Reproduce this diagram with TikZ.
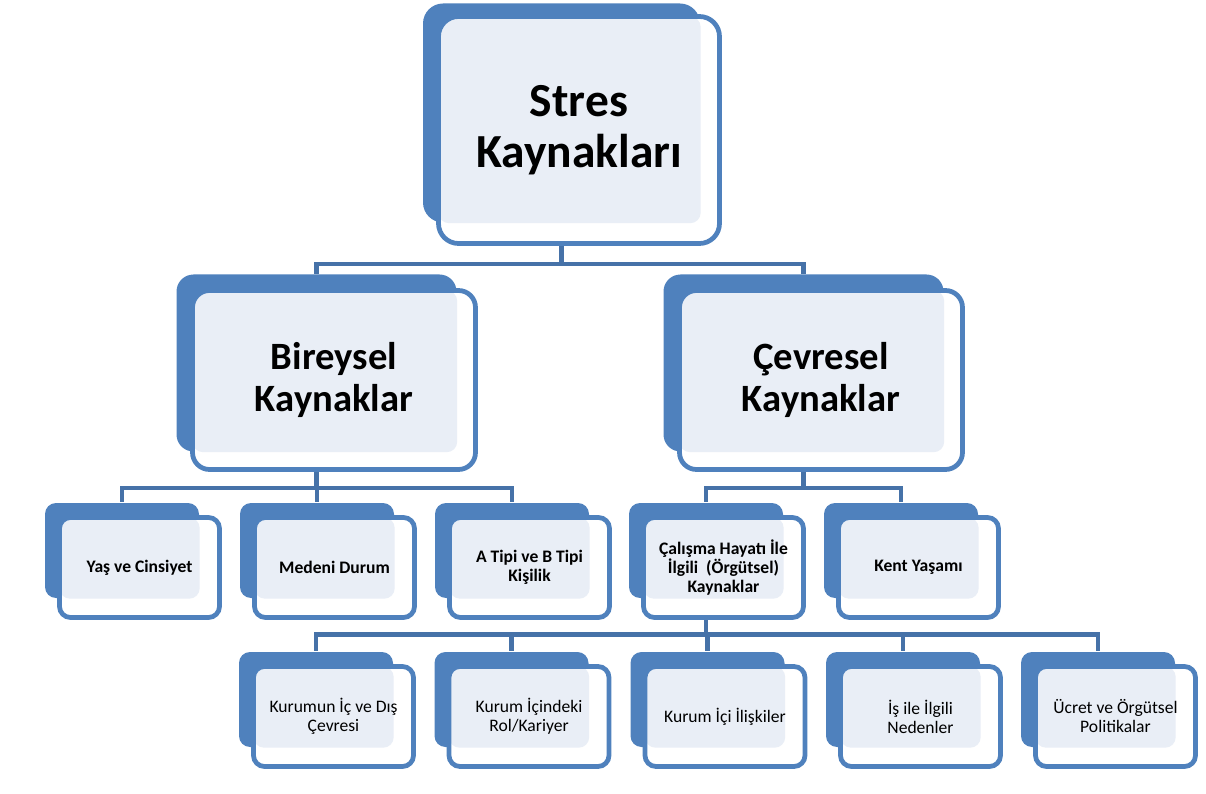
\documentclass[tikz,border=0pt]{standalone}
\usepackage{fontspec}
\setmainfont{Carlito}
\usetikzlibrary{backgrounds}
\definecolor{boxblue}{RGB}{79,129,189}
\definecolor{boxlight}{RGB}{233,238,246}
\definecolor{linkblue}{RGB}{70,114,168}

\begin{document}
\begin{tikzpicture}[thick,
	back node/.style={fill=boxblue, inner sep=0pt},
	front node/.style={draw=boxblue, line width=2.7pt, fill=white, inner sep=0pt, align=center, text=black,
		path picture={\fill[boxlight, rounded corners=6pt] (path picture bounding box.north west) rectangle (#1.south east);}},
	back one/.style={back node, minimum width=5.54cm, minimum height=4.38cm, rounded corners=0.4cm},
	front one/.style={front node=#1, minimum width=5.62cm, minimum height=4.54cm, rounded corners=0.4cm, font=\bfseries\fontsize{27}{29}\selectfont},
	back two/.style={back node, minimum width=5.6cm, minimum height=3.54cm, rounded corners=0.34cm},
	front two/.style={front node=#1, minimum width=5.66cm, minimum height=3.58cm, rounded corners=0.34cm, font=\bfseries\fontsize{22}{24.4}\selectfont},
	back small/.style={back node, minimum width=3.08cm, minimum height=1.9cm, rounded corners=0.22cm},
	front small/.style={front node=#1, minimum width=3.2cm, minimum height=2cm, rounded corners=0.22cm, font=\fontsize{10}{10.8}\selectfont},
	front bold/.style={front small=#1, font=\bfseries\fontsize{10}{10.8}\selectfont},
	to front/.style={xshift=0.35cm, yshift=-0.34cm},
	link/.style={draw=linkblue, line width=2.6pt}]

	\useasboundingbox (0,0) rectangle (24.12,-15.88);

	\node[back one] (stres-b) at (11.23,-2.26) {};
	\node[front one=stres-b] (stres) at (stres-b) [to front] {Stres\\Kaynakları};

	\node[back two] (bireysel-b) at (6.33,-7.26) {};
	\node[front two=bireysel-b] (bireysel) at (bireysel-b) [to front] {Bireysel\\Kaynaklar};
	\node[back two] (cevresel-b) at (16.07,-7.26) {};
	\node[front two=cevresel-b] (cevresel) at (cevresel-b) [to front] {Çevresel\\Kaynaklar};

	\node[back small] (yas-b) at (2.44,-11.01) {};
	\node[front bold=yas-b] (yas) at (yas-b) [to front] {Yaş ve Cinsiyet};
	\node[back small] (medeni-b) at (6.34,-11.01) {};
	\node[front bold=medeni-b] (medeni) at (medeni-b) [to front] {Medeni Durum};
	\node[back small] (tipi-b) at (10.24,-11.01) {};
	\node[front bold=tipi-b] (tipi) at (tipi-b) [to front] {A Tipi ve B Tipi\\Kişilik};
	\node[back small] (calisma-b) at (14.12,-11.01) {};
	\node[front bold=calisma-b] (calisma) at (calisma-b) [to front] {Çalışma Hayatı İle\\İlgili~~(Örgütsel)\\Kaynaklar};
	\node[back small] (kent-b) at (18.02,-11.01) {};
	\node[front bold=kent-b] (kent) at (kent-b) [to front] {Kent Yaşamı};

	\node[back small] (kurum-b) at (6.32,-13.99) {};
	\node[front small=kurum-b] (kurum) at (kurum-b) [to front] {Kurumun İç ve Dış\\Çevresi};
	\node[back small] (rol-b) at (10.23,-13.99) {};
	\node[front small=rol-b] (rol) at (rol-b) [to front] {Kurum İçindeki\\Rol/Kariyer};
	\node[back small] (iliski-b) at (14.15,-13.99) {};
	\node[front small=iliski-b] (iliski) at (iliski-b) [to front] {Kurum İçi İlişkiler};
	\node[back small] (neden-b) at (18.06,-13.99) {};
	\node[front small=neden-b] (neden) at (neden-b) [to front] {İş ile İlgili\\Nedenler};
	\node[back small] (ucret-b) at (21.96,-13.99) {};
	\node[front small=ucret-b] (ucret) at (ucret-b) [to front] {Ücret ve Örgütsel\\Politikalar};

	\begin{pgfonlayer}{background}
	\path[link]
		(stres-b.south) -- ++(0,-0.82) -| (bireysel-b.north)
		(stres-b.south) -- ++(0,-0.82) -| (cevresel-b.north)

		(bireysel-b.south) -- ++(0,-0.72) -| (yas-b.north)
		(bireysel-b.south) -- ++(0,-0.72) -| (medeni-b.north)
		(bireysel-b.south) -- ++(0,-0.72) -| (tipi-b.north)
		(cevresel-b.south) -- ++(0,-0.72) -| (calisma-b.north)
		(cevresel-b.south) -- ++(0,-0.72) -| (kent-b.north)

		(calisma-b.south) -- ++(0,-0.72) -| (kurum-b.north)
		(calisma-b.south) -- ++(0,-0.72) -| (rol-b.north)
		(calisma-b.south) -- ++(0,-0.72) -| (iliski-b.north)
		(calisma-b.south) -- ++(0,-0.72) -| (neden-b.north)
		(calisma-b.south) -- ++(0,-0.72) -| (ucret-b.north);
	\end{pgfonlayer}

\end{tikzpicture}
\end{document}
